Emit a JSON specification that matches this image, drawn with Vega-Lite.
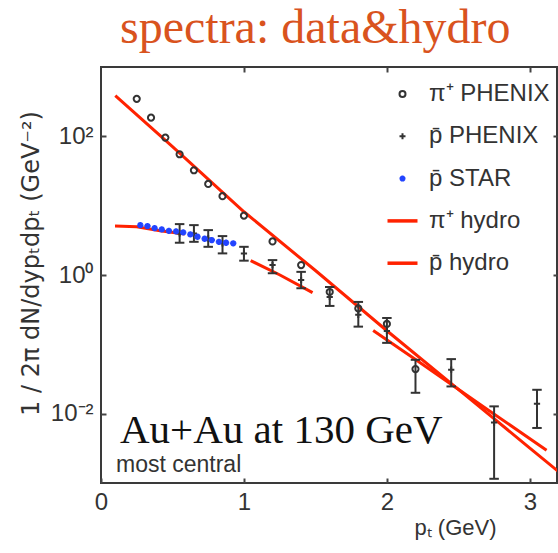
{
  "$schema": "https://vega.github.io/schema/vega-lite/v6.json",
  "width": 456,
  "height": 416,
  "autosize": {"type": "none"},
  "padding": {"left": 101, "top": 67, "right": 1, "bottom": 70},
  "background": "white",
  "title": {"text": "spectra: data&hydro", "font": "Liberation Serif", "fontSize": 48, "fontWeight": "normal", "color": "#d9531e", "anchor": "start", "frame": "group", "dx": 19, "offset": -25, "baseline": "alphabetic"},
  "config": {
    "view": {"stroke": "#3a3a3a", "strokeWidth": 2},
    "axis": {"grid": false, "domain": false, "tickColor": "#444444", "tickWidth": 2, "labelColor": "#333333", "titleColor": "#333333", "labelFont": "Liberation Sans", "titleFont": "Liberation Sans", "titleFontWeight": "normal"}
  },
  "data": {"values": [
    {"series": "pi_phenix", "pt": 0.25, "y": 347},
    {"series": "pi_phenix", "pt": 0.35, "y": 186},
    {"series": "pi_phenix", "pt": 0.45, "y": 95.8},
    {"series": "pi_phenix", "pt": 0.55, "y": 55.1},
    {"series": "pi_phenix", "pt": 0.65, "y": 32.4},
    {"series": "pi_phenix", "pt": 0.75, "y": 20.6},
    {"series": "pi_phenix", "pt": 0.85, "y": 13.7},
    {"series": "pi_phenix", "pt": 1.0, "y": 7.18},
    {"series": "pi_phenix", "pt": 1.2, "y": 3.05},
    {"series": "pi_phenix", "pt": 1.4, "y": 1.39},
    {"series": "pi_phenix", "pt": 1.6, "y": 0.569},
    {"series": "pi_phenix", "pt": 1.8, "y": 0.33},
    {"series": "pi_phenix", "pt": 2.0, "y": 0.197},
    {"series": "pi_phenix", "pt": 2.2, "y": 0.044, "lo": 0.02, "hi": 0.0598},
    {"series": "pbar_phenix", "pt": 0.55, "y": 3.98, "lo": 2.92, "hi": 5.42},
    {"series": "pbar_phenix", "pt": 0.65, "y": 3.98, "lo": 3.01, "hi": 5.24},
    {"series": "pbar_phenix", "pt": 0.75, "y": 3.37, "lo": 2.55, "hi": 4.44},
    {"series": "pbar_phenix", "pt": 0.85, "y": 2.86, "lo": 2.05, "hi": 3.64},
    {"series": "pbar_phenix", "pt": 1.0, "y": 2.05, "lo": 1.61, "hi": 2.55},
    {"series": "pbar_phenix", "pt": 1.2, "y": 1.39, "lo": 1.06, "hi": 1.64},
    {"series": "pbar_phenix", "pt": 1.4, "y": 0.847, "lo": 0.644, "hi": 1.11},
    {"series": "pbar_phenix", "pt": 1.6, "y": 0.482, "lo": 0.358, "hi": 0.671},
    {"series": "pbar_phenix", "pt": 1.8, "y": 0.266, "lo": 0.18, "hi": 0.409},
    {"series": "pbar_phenix", "pt": 2.0, "y": 0.156, "lo": 0.105, "hi": 0.24},
    {"series": "pbar_phenix", "pt": 2.45, "y": 0.043, "lo": 0.0247, "hi": 0.0612},
    {"series": "pbar_phenix", "pt": 2.75, "y": 0.00743, "lo": 0.00115, "hi": 0.01274},
    {"series": "pbar_phenix", "pt": 3.05, "y": 0.01393, "lo": 0.00622, "hi": 0.0221},
    {"series": "pbar_star", "pt": 0.275, "y": 5.24},
    {"series": "pbar_star", "pt": 0.325, "y": 5.07},
    {"series": "pbar_star", "pt": 0.375, "y": 4.74},
    {"series": "pbar_star", "pt": 0.425, "y": 4.54},
    {"series": "pbar_star", "pt": 0.475, "y": 4.34},
    {"series": "pbar_star", "pt": 0.525, "y": 4.25},
    {"series": "pbar_star", "pt": 0.575, "y": 4.11},
    {"series": "pbar_star", "pt": 0.625, "y": 3.85},
    {"series": "pbar_star", "pt": 0.675, "y": 3.56},
    {"series": "pbar_star", "pt": 0.725, "y": 3.33},
    {"series": "pbar_star", "pt": 0.775, "y": 3.19},
    {"series": "pbar_star", "pt": 0.825, "y": 3.01},
    {"series": "pbar_star", "pt": 0.875, "y": 2.92},
    {"series": "pbar_star", "pt": 0.925, "y": 2.86},
    {"series": "pi_hydro", "seg": "a", "pt": 0.1, "y": 385},
    {"series": "pi_hydro", "seg": "a", "pt": 0.5, "y": 70.8},
    {"series": "pi_hydro", "seg": "a", "pt": 1.0, "y": 8.17},
    {"series": "pi_hydro", "seg": "a", "pt": 1.5, "y": 1.16},
    {"series": "pi_hydro", "seg": "a", "pt": 2.0, "y": 0.157},
    {"series": "pi_hydro", "seg": "a", "pt": 2.5, "y": 0.0224},
    {"series": "pi_hydro", "seg": "a", "pt": 3.0, "y": 0.00319},
    {"series": "pi_hydro", "seg": "a", "pt": 3.2, "y": 0.00146},
    {"series": "pbar_hydro", "seg": "a", "pt": 0.098, "y": 5.07},
    {"series": "pbar_hydro", "seg": "a", "pt": 0.25, "y": 4.95},
    {"series": "pbar_hydro", "seg": "a", "pt": 0.413, "y": 4.34},
    {"series": "pbar_hydro", "seg": "a", "pt": 0.587, "y": 3.89},
    {"series": "pbar_hydro", "seg": "b", "pt": 1.047, "y": 1.61},
    {"series": "pbar_hydro", "seg": "b", "pt": 1.252, "y": 1.0},
    {"series": "pbar_hydro", "seg": "b", "pt": 1.48, "y": 0.556},
    {"series": "pbar_hydro", "seg": "c", "pt": 1.904, "y": 0.158},
    {"series": "pbar_hydro", "seg": "c", "pt": 2.208, "y": 0.0589},
    {"series": "pbar_hydro", "seg": "c", "pt": 2.713, "y": 0.01114},
    {"series": "pbar_hydro", "seg": "c", "pt": 3.117, "y": 0.002965}
  ]},
  "resolve": {"axis": {"x": "independent", "y": "independent"}},
  "layer": [
    {
      "transform": [{"filter": "datum.series == 'pi_hydro' || datum.series == 'pbar_hydro'"}],
      "mark": {"type": "line", "strokeWidth": 3, "clip": true},
      "encoding": {
        "x": {"field": "pt", "type": "quantitative", "scale": {"domain": [0, 3.19], "nice": false, "zero": false},
          "axis": {"orient": "bottom", "values": [0, 1, 2, 3], "labelFontSize": 24, "labelPadding": 12, "tickSize": -5, "labelFlush": false, "labelOverlap": false,
            "title": "pₜ (GeV)", "titleFontSize": 22, "titleX": 354, "titleY": 51, "titleAlign": "center", "titleBaseline": "alphabetic", "titleAnchor": null}},
        "y": {"field": "y", "type": "quantitative", "scale": {"type": "log", "domain": [0.001, 1000], "nice": false},
          "axis": {"orient": "left", "values": [0.01, 1, 100], "labelFontSize": 24, "labelPadding": 13, "tickSize": -5, "labelOverlap": false,
            "labelExpr": "datum.value == 100 ? '10²' : (datum.value == 1 ? '10⁰' : '10⁻²')",
            "title": "1 / 2π dN/dypₜdpₜ (GeV⁻²)", "titleFont": "DejaVu Sans", "titleFontSize": 24, "titleAngle": -90, "titleX": -63, "titleY": 196, "titleAlign": "center", "titleBaseline": "alphabetic", "titleAnchor": null}},
        "color": {"field": "series", "type": "nominal",
          "scale": {"domain": ["pi_phenix", "pbar_phenix", "pbar_star", "pi_hydro", "pbar_hydro"], "range": ["#333333", "#333333", "#2244ff", "#ff2200", "#ff2200"]},
          "legend": {"orient": "none", "legendX": 289.5, "legendY": 15, "title": null, "padding": 0, "symbolSize": 900, "labelFontSize": 24, "labelFont": "Liberation Sans", "labelColor": "#333333", "labelOffset": 14.5, "rowPadding": 18.3,
            "labelExpr": "{'pi_phenix': 'π⁺ PHENIX', 'pbar_phenix': 'p̄  PHENIX', 'pbar_star': 'p̄  STAR', 'pi_hydro': 'π⁺ hydro', 'pbar_hydro': 'p̄  hydro'}[datum.value]",
            "encode": {"symbols": {"update": {
              "size": {"signal": "(datum.value == 'pi_hydro' || datum.value == 'pbar_hydro') ? 900 : 36"},
              "strokeWidth": {"signal": "(datum.value == 'pi_hydro' || datum.value == 'pbar_hydro') ? 3.5 : 2"},
              "fill": {"value": "transparent"},
              "stroke": {"scale": "color", "field": "value"},
              "opacity": {"value": 1}
            }}}}},
        "detail": {"field": "seg"}
      }
    },
    {
      "transform": [{"filter": "isValid(datum.lo)"}],
      "mark": {"type": "rule", "color": "#333333", "strokeWidth": 2},
      "encoding": {
        "x": {"field": "pt", "type": "quantitative", "axis": null},
        "y": {"field": "lo", "type": "quantitative", "axis": null},
        "y2": {"field": "hi"}
      }
    },
    {
      "transform": [{"filter": "isValid(datum.lo)"}],
      "mark": {"type": "point", "shape": "M-1,0H1", "size": 90, "filled": false, "stroke": "#333333", "strokeWidth": 2, "opacity": 1},
      "encoding": {
        "x": {"field": "pt", "type": "quantitative", "axis": null},
        "y": {"field": "lo", "type": "quantitative", "axis": null}
      }
    },
    {
      "transform": [{"filter": "isValid(datum.hi)"}],
      "mark": {"type": "point", "shape": "M-1,0H1", "size": 90, "filled": false, "stroke": "#333333", "strokeWidth": 2, "opacity": 1},
      "encoding": {
        "x": {"field": "pt", "type": "quantitative", "axis": null},
        "y": {"field": "hi", "type": "quantitative", "axis": null}
      }
    },
    {
      "transform": [{"filter": "datum.series == 'pi_phenix' || datum.series == 'pbar_phenix' || datum.series == 'pbar_star'"}],
      "mark": {"type": "point", "filled": false, "strokeWidth": 2, "opacity": 1},
      "encoding": {
        "x": {"field": "pt", "type": "quantitative", "axis": null},
        "y": {"field": "y", "type": "quantitative", "axis": null},
        "color": {"field": "series", "type": "nominal"},
        "size": {"field": "series", "type": "nominal", "legend": null,
          "scale": {"domain": ["pi_phenix", "pbar_phenix", "pbar_star"], "range": [38, 40, 60]}},
        "shape": {"field": "series", "type": "nominal",
          "scale": {"domain": ["pi_phenix", "pbar_phenix", "pbar_star", "pi_hydro", "pbar_hydro"], "range": ["circle", "M-1,0H1M0,-1V1", "M-1,0H1M0,-1V1M-0.7,-0.7L0.7,0.7M-0.7,0.7L0.7,-0.7", "stroke", "stroke"]}}
      }
    },
    {
      "transform": [{"filter": "datum.series == 'pi_phenix'"}],
      "mark": {"type": "point", "opacity": 0},
      "encoding": {
        "x": {"field": "pt", "type": "quantitative", "axis": {"orient": "top", "values": [1, 2, 3], "labels": false, "tickSize": -5, "title": null}},
        "y": {"field": "y", "type": "quantitative", "axis": {"orient": "right", "values": [0.01, 1, 100], "labels": false, "tickSize": -4, "title": null}}
      }
    },
    {
      "data": {"values": [{}]},
      "mark": {"type": "text", "text": "Au+Au at 130 GeV", "font": "Liberation Serif", "fontSize": 41, "color": "#111111", "align": "left", "baseline": "alphabetic"},
      "encoding": {
        "x": {"datum": 0.133, "type": "quantitative", "axis": null},
        "y": {"datum": 0.00383, "type": "quantitative", "axis": null}
      }
    },
    {
      "data": {"values": [{}]},
      "mark": {"type": "text", "text": "most central", "font": "Liberation Sans", "fontSize": 23, "color": "#333333", "align": "left", "baseline": "alphabetic"},
      "encoding": {
        "x": {"datum": 0.105, "type": "quantitative", "axis": null},
        "y": {"datum": 0.00142, "type": "quantitative", "axis": null}
      }
    }
  ]
}
